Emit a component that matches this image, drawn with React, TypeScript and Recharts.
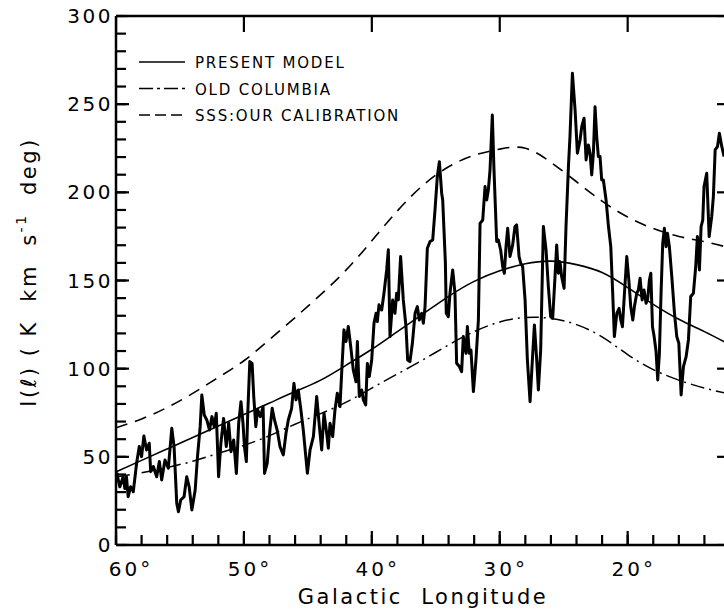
import React from 'react';
import { ComposedChart, Line, Scatter, XAxis, YAxis } from 'recharts';

const FONT = "'DejaVu Sans', 'Noto Sans', sans-serif";

// Smooth model curves, sampled every 2 degrees of galactic longitude
const modelLon = [60, 58, 56, 54, 52, 50, 48, 46, 44, 42, 40, 38, 36, 34, 32, 30, 28, 26, 24, 22, 20, 18, 16, 14, 12];
const presentModel = [41.5, 48, 54.5, 61, 67.5, 74, 80.5, 87, 93.5, 102, 111, 121, 131, 141, 149.5, 155.5, 159.5, 161, 159, 154.5, 146, 136.5, 128, 121, 113.5];
const oldColumbia = [38.5, 41, 44, 47.5, 52, 56.5, 62, 68.5, 74.5, 81, 89, 97, 105, 113.5, 121, 126.5, 129, 128.5, 125, 118, 108, 99.5, 93.5, 89, 85.5];
const sssCalibration = [66.5, 71.5, 78, 86, 95, 104.5, 116.5, 129, 142, 156, 172.5, 189.5, 204, 214.5, 221, 224.5, 225, 217, 206, 195, 186, 179.5, 175, 172, 168.5];

// Observed integrated intensity I(l)
const obsLon = [
  59.95, 59.7, 59.44, 59.31, 59.18, 59.05, 58.86, 58.65, 58.39, 58.18, 58.0, 57.82, 57.61, 57.4, 57.29, 57.08,
  56.82, 56.61, 56.43, 56.17, 55.91, 55.64, 55.46, 55.25, 55.12, 54.94, 54.68, 54.47, 54.28, 54.07, 53.81, 53.63,
  53.42, 53.29, 53.1, 52.9, 52.69, 52.5, 52.32, 52.16, 51.98, 51.8, 51.59, 51.38, 51.19, 51.01, 50.8, 50.59,
  50.41, 50.23, 50.07, 49.96, 49.81, 49.7, 49.54, 49.36, 49.23, 49.07, 48.92, 48.71, 48.5, 48.39, 48.18, 47.97,
  47.79, 47.61, 47.4, 47.18, 46.92, 46.71, 46.53, 46.27, 46.09, 45.93, 45.75, 45.56, 45.36, 45.04, 44.83, 44.57,
  44.31, 44.1, 43.92, 43.74, 43.53, 43.4, 43.27, 43.06, 42.88, 42.7, 42.49, 42.36, 42.18, 42.02, 41.84, 41.65,
  41.45, 41.24, 41.13, 40.98, 40.79, 40.66, 40.48, 40.35, 40.2, 40.01, 39.83, 39.67, 39.57, 39.44, 39.23, 39.05,
  38.84, 38.71, 38.58, 38.37, 38.19, 38.06, 37.93, 37.75, 37.54, 37.33, 37.2, 37.02, 36.83, 36.62, 36.44, 36.29,
  36.1, 35.97, 35.84, 35.66, 35.45, 35.24, 35.06, 34.88, 34.72, 34.54, 34.46, 34.36, 34.25, 34.18, 34.02, 33.89,
  33.68, 33.5, 33.37, 33.16, 32.98, 32.85, 32.64, 32.53, 32.38, 32.25, 32.06, 31.86, 31.67, 31.54, 31.33, 31.15,
  31.02, 30.89, 30.76, 30.58, 30.45, 30.24, 30.11, 29.93, 29.77, 29.64, 29.51, 29.38, 29.2, 28.99, 28.81, 28.68,
  28.49, 28.36, 28.21, 28.02, 27.84, 27.63, 27.45, 27.29, 27.11, 26.98, 26.8, 26.59, 26.38, 26.2, 26.02, 25.86,
  25.68, 25.55, 25.42, 25.29, 25.16, 24.97, 24.82, 24.63, 24.51, 24.32, 24.11, 23.93, 23.72, 23.59, 23.41, 23.25,
  23.07, 22.94, 22.81, 22.68, 22.55, 22.42, 22.29, 22.16, 22.03, 21.9, 21.69, 21.5, 21.32, 21.17, 21.04, 20.85,
  20.67, 20.54, 20.41, 20.25, 20.07, 19.91, 19.76, 19.6, 19.47, 19.29, 19.16, 19.03, 18.87, 18.72, 18.56, 18.43,
  18.3, 18.19, 18.06, 17.93, 17.78, 17.65, 17.52, 17.39, 17.26, 17.13, 17.0, 16.89, 16.74, 16.55, 16.34, 16.16,
  16.0, 15.82, 15.64, 15.43, 15.25, 15.07, 14.86, 14.68, 14.55, 14.39, 14.26, 14.13, 14.03, 13.82, 13.63, 13.43,
  13.3, 13.16, 12.98, 12.83, 12.64, 12.46,
];
const obsIntensity = [
  41, 33, 38.7, 32, 38.7, 27.4, 33, 30.2, 46.3, 55.8, 50.1, 61.8, 53.9, 57.7, 41.6, 44.5,
  38.7, 47.3, 36.9, 48.2, 43.5, 66.2, 55.8, 23.6, 18.9, 25.5, 27.4, 38.7, 33, 19.9, 31.2, 50.1,
  67.1, 85.1, 73.7, 70.9, 65.2, 72.8, 67.1, 74.7, 38.7, 57.7, 71.8, 55.8, 69, 52.9, 59.6, 40.6,
  69, 81.3, 69, 55.8, 47.3, 74.7, 104, 103, 84.1, 67.1, 76.6, 72.8, 78.4, 40.6, 46.3, 65.2,
  77.5, 70.9, 65.2, 55.8, 51.1, 63.4, 70.9, 77.5, 91.7, 82.3, 87.9, 77.5, 65.3, 40.7, 53.9, 61.5,
  84.2, 67.1, 53.9, 74.7, 63.4, 54.9, 69, 61.5, 76.6, 86.1, 78.5, 97.4, 122, 115.4, 123.9, 112.5,
  99.3, 92.6, 115.4, 84.2, 87.9, 82.3, 79.4, 103, 95.5, 104.9, 125.8, 131.4, 126.7, 136.2, 133.3, 142.8,
  156, 167.4, 118.2, 139, 131.4, 142.8, 139, 163.6, 139, 123.9, 104.9, 104, 114.4, 131.4, 135.2, 127.6,
  131.4, 125.8, 135.2, 168.3, 172.1, 173, 190, 209, 217.4, 199.5, 195.7, 178.7, 160, 131.4, 129.5, 142.8,
  156, 142.8, 103.1, 101.2, 98.3, 118.2, 108.7, 123.9, 108.7, 110.6, 87, 105, 127.6, 182.4, 184.3, 203.3,
  195.7, 201.4, 212.7, 243.9, 212.7, 172.1, 173, 167.3, 157.9, 154.1, 169.2, 179.6, 163.6, 170.2, 180.6, 181.5,
  163.6, 159.8, 157.9, 139, 104.9, 81.3, 104.9, 124.8, 104.9, 87.9, 110.6, 180.6, 167.3, 146.5, 129.5, 128.6,
  152.2, 170.2, 154.1, 160.7, 152.2, 145.6, 180.6, 214.6, 231.6, 267.5, 246.7, 222.2, 229.7, 237.3, 242, 218.4,
  226.9, 222.2, 209.9, 222.2, 248.6, 231.6, 220.3, 220.3, 207, 207, 195.7, 180.6, 169.2, 142.8, 118.2, 131.4,
  134.2, 127.6, 123.8, 142.8, 163.6, 150.3, 135.2, 127.6, 135.2, 142.8, 144.6, 151.3, 139, 144.6, 137.1, 139.9,
  150.3, 154.1, 123.8, 118.2, 109.7, 93.6, 108.7, 142.8, 171.1, 179.6, 169.2, 176.8, 169.2, 152.2, 131.4, 118.2,
  114.4, 85.1, 101.2, 106.8, 116.3, 140.9, 142.8, 157.9, 174.9, 156, 180.6, 184.3, 203.3, 210.8, 174.9, 186.2,
  197.5, 224.1, 225.9, 233.5, 225.9, 220.3,
];

const xTicks = [60, 58, 56, 54, 52, 50, 48, 46, 44, 42, 40, 38, 36, 34, 32, 30, 28, 26, 24, 22, 20, 18, 16, 14, 12];
const xLabelTicks = [60, 50, 40, 30, 20];
const yTicks = [0, 10, 20, 30, 40, 50, 60, 70, 80, 90, 100, 110, 120, 130, 140, 150, 160, 170, 180, 190, 200, 210, 220, 230, 240, 250, 260, 270, 280, 290, 300];
const yLabelTicks = [0, 50, 100, 150, 200, 250, 300];

const legendItems = [
  { label: 'PRESENT MODEL', dash: '' },
  { label: 'OLD COLUMBIA', dash: '14 4 3 4' },
  { label: 'SSS:OUR CALIBRATION', dash: '11 5' },
];

const X_MIN = 12;
const X_MAX = 60;
const Y_MIN = 0;
const Y_MAX = 300;

const modelData = modelLon.map((lon, i) => ({
  lon,
  present: presentModel[i],
  old: oldColumbia[i],
  sss: sssCalibration[i],
}));
const obsData = obsLon.map((lon, i) => ({ lon, obs: obsIntensity[i] }));

// anchor points of the longer (major) inward tick marks on the four sides of the frame
const xMajor = xTicks.filter((v) => v % 10 === 0);
const yMajor = yTicks.filter((v) => v % 50 === 0);
const bottomMajorTicks = xMajor.map((v) => ({ lon: v, val: Y_MIN }));
const topMajorTicks = xMajor.map((v) => ({ lon: v, val: Y_MAX }));
const leftMajorTicks = yMajor.map((v) => ({ lon: X_MAX, val: v }));
const rightMajorTicks = yMajor.map((v) => ({ lon: X_MIN, val: v }));

const makeTickShape = (dx: number, dy: number) => (props: any) => {
  const { cx, cy } = props;
  return <path d={`M${cx},${cy}l${dx},${dy}`} stroke="#000" strokeWidth={2.2} fill="none" />;
};
const BottomMajorShape = makeTickShape(0, -14);
const TopMajorShape = makeTickShape(0, 16);
const LeftMajorShape = makeTickShape(13, 0);
const RightMajorShape = makeTickShape(-13, 0);

const TICK = -10; // native inward tick length for every tick
const tickLineStyle = { stroke: '#000', strokeWidth: 2.2 };

const BottomTick = (props: any) => {
  const x = Number(props.x);
  const y = Number(props.y) - TICK;
  const v = props.payload.value;
  if (!xLabelTicks.includes(v)) return <g />;
  return (
    <text x={x + (v === 60 ? 15 : 6)} y={y + 31} textAnchor="middle" fontFamily={FONT} fontSize={20} letterSpacing={3} fill="#000">
      {`${v}°`}
    </text>
  );
};

const LeftTick = (props: any) => {
  const x = Number(props.x) + TICK;
  const y = Number(props.y);
  const v = props.payload.value;
  if (!yLabelTicks.includes(v)) return <g />;
  return (
    <text x={x - 3} y={y + 7} textAnchor="end" fontFamily={FONT} fontSize={20} letterSpacing={2.5} fill="#000">
      {v}
    </text>
  );
};

const YTitle = () => {
  const cx = 29;
  const cy = 272;
  return (
    <text
      x={cx}
      y={cy}
      transform={`rotate(-90, ${cx}, ${cy})`}
      textAnchor="middle"
      dominantBaseline="central"
      fontFamily={FONT}
      fontSize={21}
      letterSpacing={2.5}
      fill="#000"
      style={{ whiteSpace: 'pre' }}
    >
      {'I(ℓ) ( K  km  s'}
      <tspan dy={-8} fontSize={14}>-1</tspan>
      <tspan dy={8}>{'  deg)'}</tspan>
    </text>
  );
};

const XTitle = (props: any) => {
  const { viewBox } = props;
  const cx = viewBox.x + viewBox.width / 2;
  return (
    <text x={cx} y={604} textAnchor="middle" fontFamily={FONT} fontSize={21} letterSpacing={2.5} fill="#000" style={{ whiteSpace: 'pre' }}>
      {'Galactic  Longitude'}
    </text>
  );
};

// legend drawn inside the chart, hung on the top axis (plot's top-left corner)
const LegendLabel = (props: any) => {
  const { viewBox } = props;
  const x0 = viewBox.x + 23;
  const y0 = viewBox.y + viewBox.height + 46;
  return (
    <g>
      {legendItems.map((it, i) => {
        const y = y0 + i * 26.5;
        return (
          <g key={it.label}>
            <line x1={x0} y1={y} x2={x0 + 46} y2={y} stroke="#000" strokeWidth={1.6} strokeDasharray={it.dash || undefined} />
            <text x={x0 + 56} y={y + 6} fontFamily={FONT} fontSize={15} letterSpacing={1.8} fill="#000" style={{ whiteSpace: 'pre' }}>
              {it.label}
            </text>
          </g>
        );
      })}
    </g>
  );
};

const axisLineStyle = { stroke: '#000', strokeWidth: 2.5 };

const tickSeries: [any[], any][] = [
  [bottomMajorTicks, BottomMajorShape],
  [topMajorTicks, TopMajorShape],
  [leftMajorTicks, LeftMajorShape],
  [rightMajorTicks, RightMajorShape],
];

export default function App() {
  return (
    <div style={{ position: 'fixed', left: 0, top: 0, width: 724, height: 613, overflow: 'hidden', background: '#fff' }}>
      <ComposedChart width={760} height={613} data={modelData} margin={{ top: 15, right: 29, bottom: 0, left: 0 }}>
        <XAxis
          dataKey="lon"
          type="number"
          domain={[X_MIN, X_MAX]}
          reversed
          allowDataOverflow
          ticks={xTicks}
          interval={0}
          tick={<BottomTick />}
          tickLine={tickLineStyle}
          tickSize={TICK}
          tickMargin={0}
          height={68}
          axisLine={axisLineStyle}
          label={<XTitle />}
        />
        <XAxis
          xAxisId="top"
          orientation="top"
          dataKey="lon"
          type="number"
          domain={[X_MIN, X_MAX]}
          reversed
          allowDataOverflow
          ticks={xTicks}
          interval={0}
          tick={false}
          tickLine={tickLineStyle}
          tickSize={TICK}
          tickMargin={0}
          height={1}
          axisLine={axisLineStyle}
          label={<LegendLabel />}
        />
        <YAxis
          type="number"
          domain={[Y_MIN, Y_MAX]}
          allowDataOverflow
          ticks={yTicks}
          interval={0}
          tick={<LeftTick />}
          tickLine={tickLineStyle}
          tickSize={TICK}
          tickMargin={0}
          width={116}
          axisLine={axisLineStyle}
          label={<YTitle />}
        />
        <YAxis
          yAxisId="right"
          orientation="right"
          type="number"
          domain={[Y_MIN, Y_MAX]}
          allowDataOverflow
          ticks={yTicks}
          interval={0}
          tick={false}
          tickLine={tickLineStyle}
          tickSize={TICK}
          tickMargin={0}
          width={1}
          axisLine={axisLineStyle}
        />
        <Line dataKey="sss" type="natural" stroke="#000" strokeWidth={1.6} strokeDasharray="12 8" dot={false} isAnimationActive={false} />
        <Line dataKey="old" type="natural" stroke="#000" strokeWidth={1.5} strokeDasharray="14 5 2 5" dot={false} isAnimationActive={false} />
        <Line dataKey="present" type="natural" stroke="#000" strokeWidth={1.6} dot={false} isAnimationActive={false} />
        <Line data={obsData} dataKey="obs" type="linear" stroke="#000" strokeWidth={3} strokeLinejoin="round" dot={false} isAnimationActive={false} />
        {tickSeries.map(([d, S], i) => (
          <Scatter key={`ticks${i}`} data={d} dataKey="val" shape={<S />} isAnimationActive={false} legendType="none" />
        ))}
      </ComposedChart>
    </div>
  );
}
